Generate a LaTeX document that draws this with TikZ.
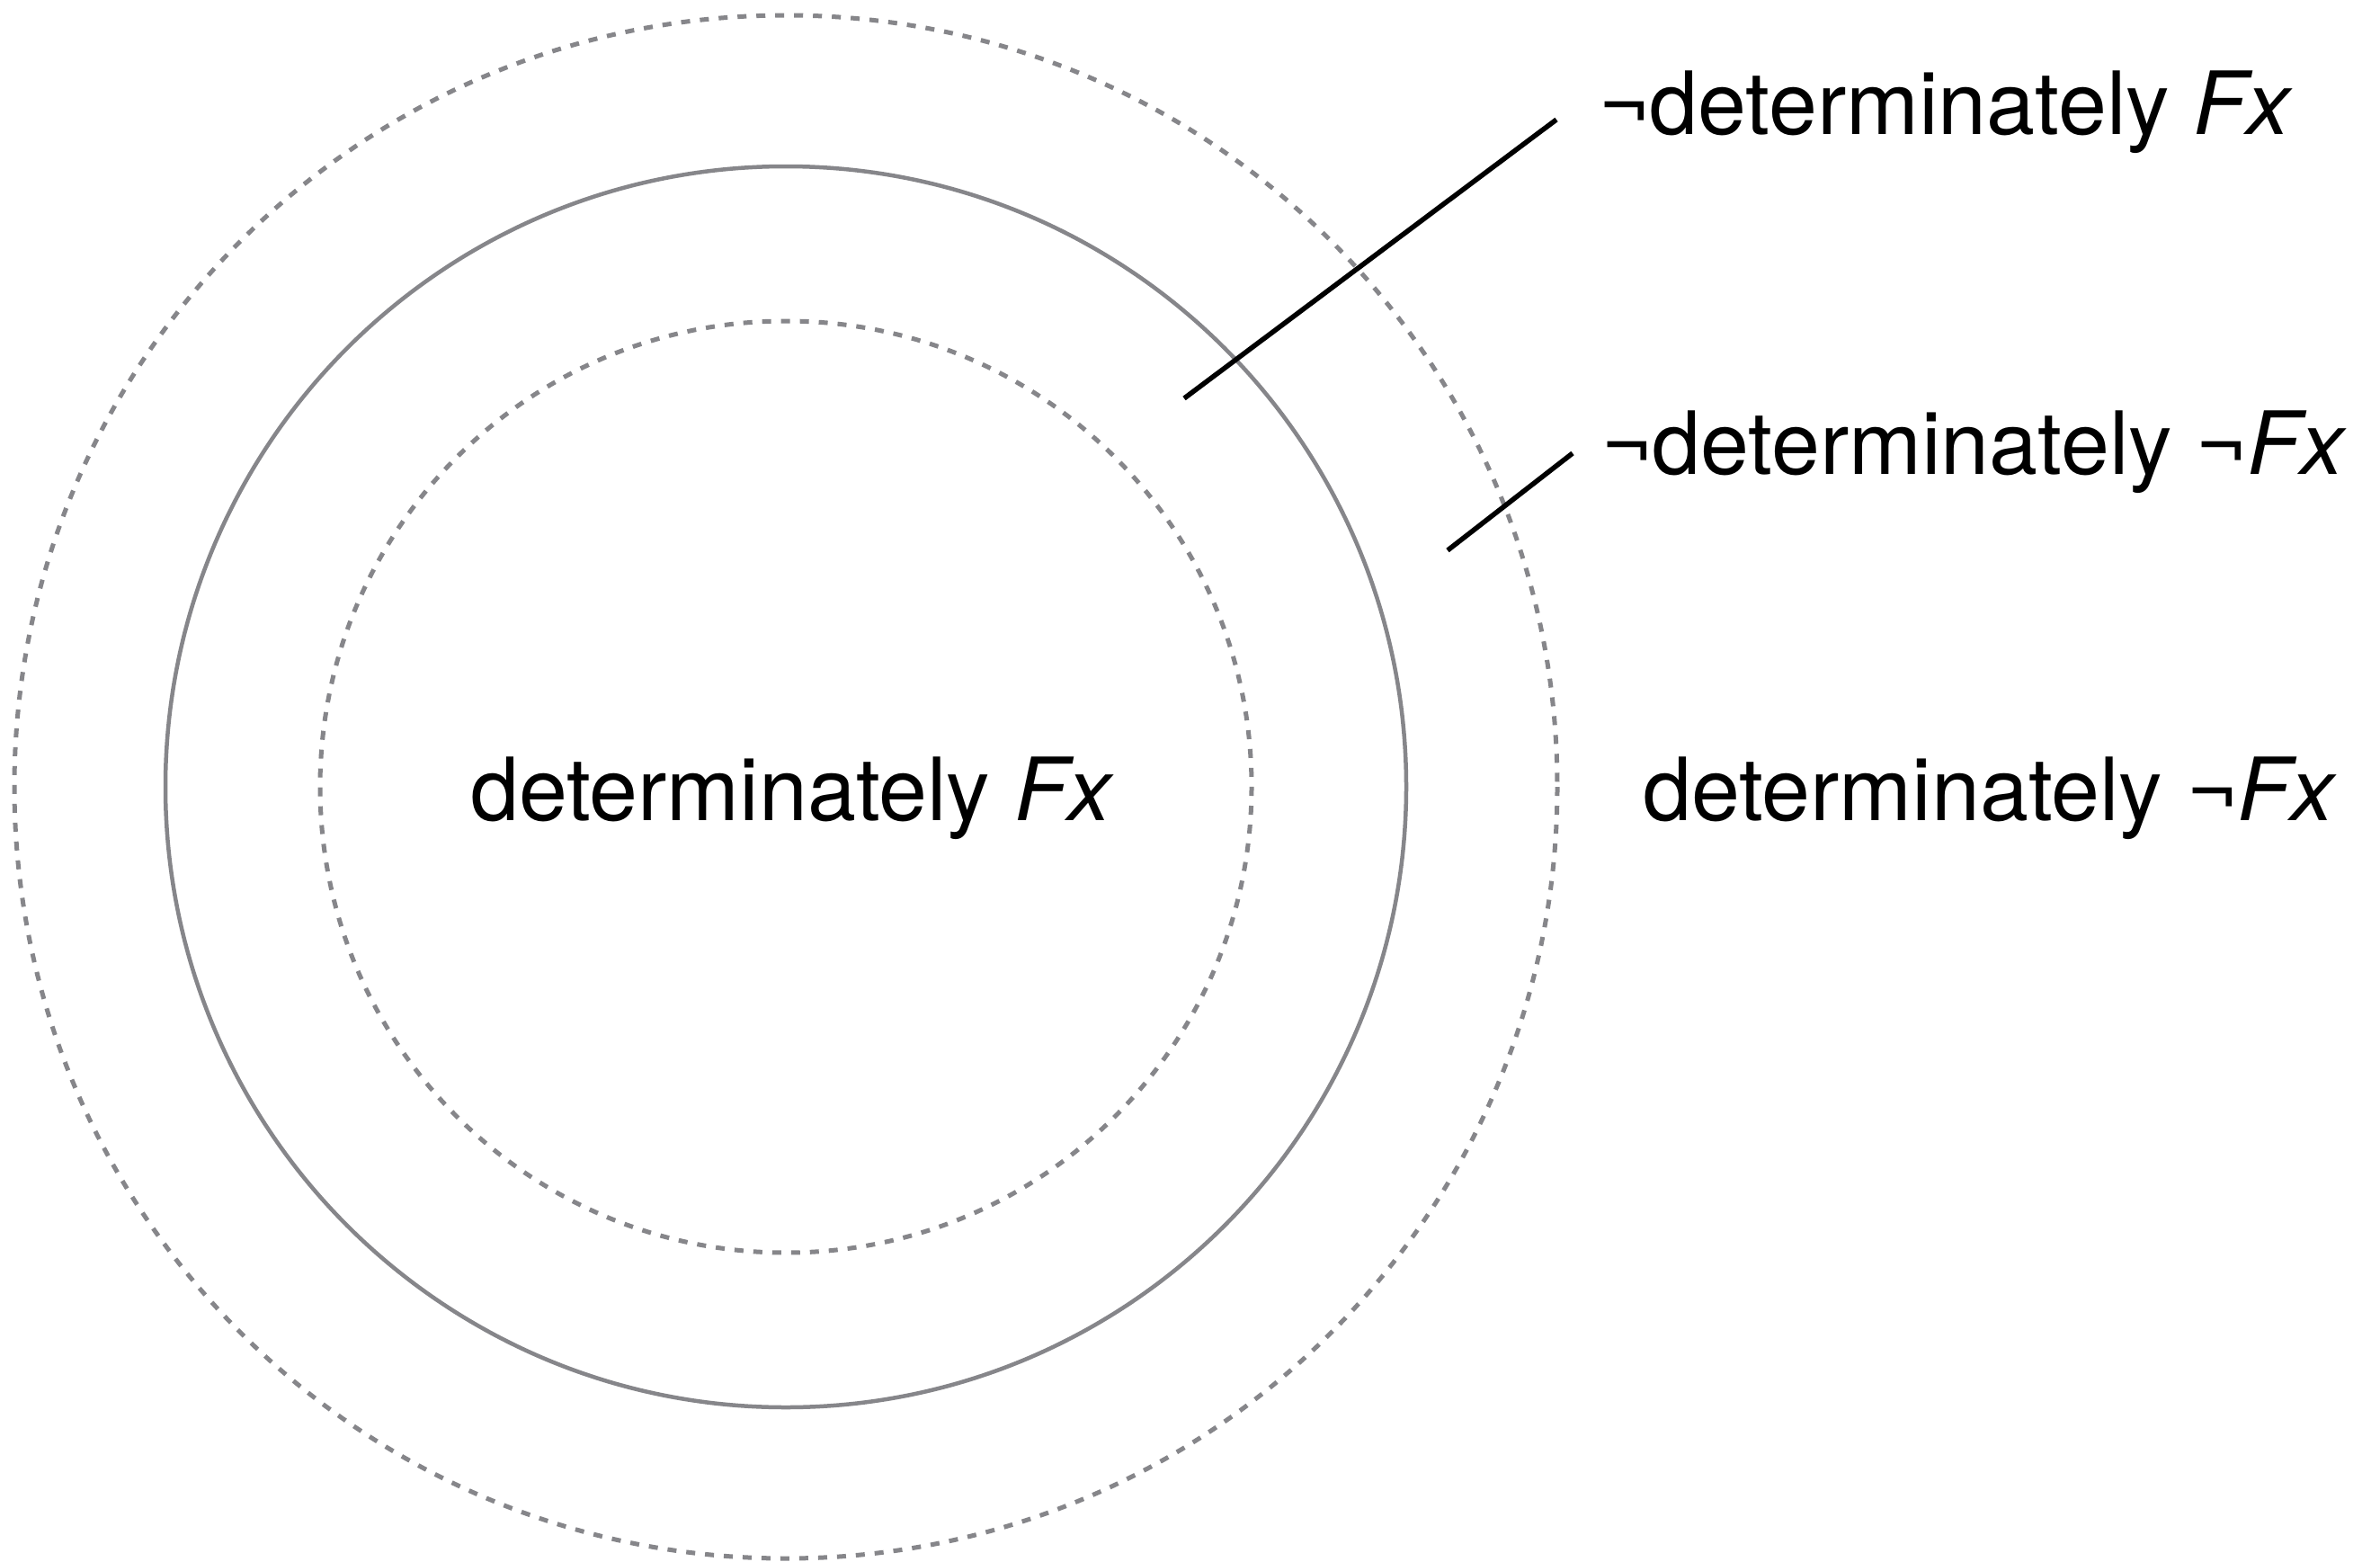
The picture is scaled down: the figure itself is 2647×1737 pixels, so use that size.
\documentclass[tikz,border=0pt]{standalone}
\usepackage{fontspec}
\setmainfont{TeX Gyre Heros}
\definecolor{ringgray}{HTML}{86868A}
\begin{document}
\begin{tikzpicture}[x=1pt,y=-1pt,
  ring/.style={draw=ringgray,line width=4.5pt},
  dashring/.style={draw=ringgray,line width=5pt,dash pattern=on 10pt off 11pt},
  leader/.style={draw=black,line width=5.5pt},
  lbl/.style={anchor=base west,inner sep=0pt,font=\fontsize{97}{110}\selectfont}]
\useasboundingbox[fill=white] (0,0) rectangle (2647,1737);
\coordinate (c) at (874,875);
\draw[dashring] (c) circle[radius=858];
\draw[ring] (c) circle[radius=690];
\draw[dashring] (c) circle[radius=518];
\node[lbl] (center) at (523,912) {determinately \textit{Fx}};
\node[lbl] (l1) at (1778,149) {¬determinately \textit{Fx}};
\node[lbl] (l2) at (1781,527) {¬determinately ¬\textit{Fx}};
\node[lbl] (l3) at (1827,912) {determinately ¬\textit{Fx}};
\coordinate (a1) at (1317,443);
\coordinate (b1) at (1731,133);
\coordinate (a2) at (1610,612);
\coordinate (b2) at (1749,504);
\draw[leader] (a1) -- (b1);
\draw[leader] (a2) -- (b2);
\end{tikzpicture}
\end{document}
